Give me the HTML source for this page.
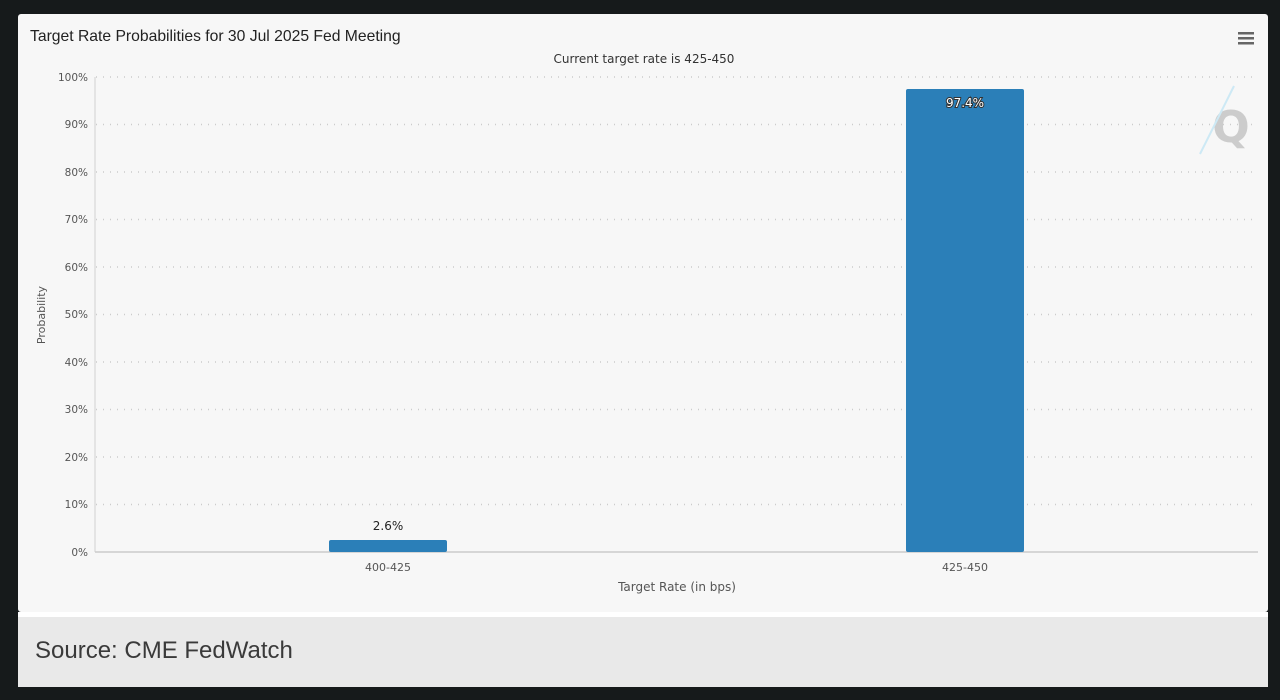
<!DOCTYPE html>
<html><head><meta charset="utf-8"><style>
body{margin:0;width:1280px;height:700px;background:#161a1b;overflow:hidden;font-family:"Liberation Sans","DejaVu Sans",sans-serif}
#p{position:absolute;left:18px;top:14px;width:1250px;height:598px;background:#f7f7f7;border-radius:3px}
#w{position:absolute;left:18px;top:612px;width:1250px;height:5px;background:#fff}
#s{position:absolute;left:18px;top:617px;width:1250px;height:70px;background:#e9e9e9;font-size:24px;color:#3a3a3a;line-height:68px;text-indent:17px}
</style></head><body>
<div id="p"></div><div id="w"></div>
<div id="s">Source: CME FedWatch</div>
<svg width="1280" height="700" style="position:absolute;left:0;top:0" font-family="DejaVu Sans, Liberation Sans, sans-serif">
<text x="30" y="41" font-family="Liberation Sans, sans-serif" font-size="15.7" fill="#222">Target Rate Probabilities for 30 Jul 2025 Fed Meeting</text>
<text x="644" y="63" font-size="12" fill="#333" text-anchor="middle">Current target rate is 425-450</text>
<g fill="#666"><rect x="1238" y="32" width="16" height="2.5"/><rect x="1238" y="37" width="16" height="2.5"/><rect x="1238" y="42" width="16" height="2.5"/></g>
<g stroke="#ccc" stroke-dasharray="1,6" stroke-width="1.5">
<line x1="96" x2="1258" y1="77" y2="77"/><line x1="96" x2="1258" y1="124.5" y2="124.5"/><line x1="96" x2="1258" y1="172" y2="172"/><line x1="96" x2="1258" y1="219.5" y2="219.5"/><line x1="96" x2="1258" y1="267" y2="267"/><line x1="96" x2="1258" y1="314.5" y2="314.5"/><line x1="96" x2="1258" y1="362" y2="362"/><line x1="96" x2="1258" y1="409.5" y2="409.5"/><line x1="96" x2="1258" y1="457" y2="457"/><line x1="96" x2="1258" y1="504.5" y2="504.5"/>
</g>
<line x1="95" x2="95" y1="77" y2="552" stroke="#ddd" stroke-width="1.5"/>
<line x1="95" x2="1258" y1="552" y2="552" stroke="#ccc" stroke-width="1.5"/>
<g font-size="10.5" fill="#555" text-anchor="end">
<text x="88" y="81">100%</text><text x="88" y="128">90%</text><text x="88" y="176">80%</text><text x="88" y="223">70%</text><text x="88" y="271">60%</text><text x="88" y="318">50%</text><text x="88" y="366">40%</text><text x="88" y="413">30%</text><text x="88" y="461">20%</text><text x="88" y="508">10%</text><text x="88" y="556">0%</text>
</g>
<text transform="translate(45,315) rotate(-90)" font-size="11" fill="#555" text-anchor="middle">Probability</text>
<rect x="329" y="540" width="118" height="12" rx="2" fill="#2b7fb8"/>
<rect x="906" y="89" width="118" height="463" rx="2" fill="#2b7fb8"/>
<text x="388" y="530" font-size="12" fill="#222" text-anchor="middle">2.6%</text>
<text x="965" y="107" font-size="12" fill="#fff" stroke="#333" stroke-width="2" paint-order="stroke" text-anchor="middle">97.4%</text>
<g font-size="11" fill="#555" text-anchor="middle"><text x="388" y="571">400-425</text><text x="965" y="571">425-450</text></g>
<text x="677" y="591" font-size="12" fill="#555" text-anchor="middle">Target Rate (in bps)</text>
<text x="1231" y="142" font-size="44" font-weight="bold" fill="#ccc" text-anchor="middle">Q</text>
<g stroke="#cde9f5" stroke-width="2"><line x1="1200" y1="154" x2="1234" y2="86"/></g>
</svg>
</body></html>
